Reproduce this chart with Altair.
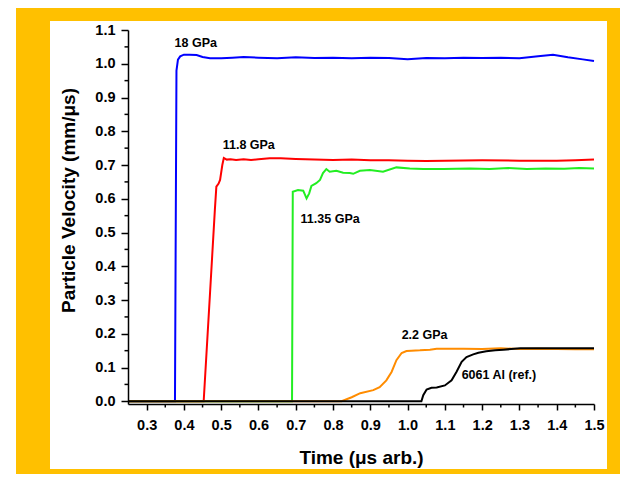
import altair as alt
import pandas as pd

# ---------------- data ----------------
series_names = ["18 GPa", "11.8 GPa", "11.35 GPa", "2.2 GPa", "6061 Al (ref.)"]
series_colors = ["#0000FF", "#FF0000", "#22EE22", "#FF8C00", "#000000"]

blue_t = [0.25, 0.376, 0.378, 0.380, 0.384, 0.390, 0.400, 0.415, 0.434, 0.45, 0.47, 0.50,
          0.53, 0.56, 0.60, 0.65, 0.70, 0.75, 0.80, 0.85, 0.90, 0.95, 1.00, 1.05, 1.10,
          1.15, 1.20, 1.25, 1.30, 1.35, 1.39, 1.43, 1.47, 1.50]
blue_v = [0.0, 0.0, 0.50, 0.98, 1.012, 1.022, 1.027, 1.027, 1.026, 1.020, 1.016, 1.016,
          1.018, 1.020, 1.018, 1.016, 1.019, 1.017, 1.018, 1.016, 1.018, 1.017, 1.013, 1.017,
          1.016, 1.018, 1.017, 1.018, 1.016, 1.022, 1.027, 1.019, 1.013, 1.008]

red_t = [0.25, 0.453, 0.470, 0.483, 0.487, 0.493, 0.497, 0.503, 0.507, 0.515, 0.525,
         0.54, 0.56, 0.58, 0.60, 0.63, 0.66, 0.70, 0.75, 0.80, 0.85, 0.90,
         0.95, 1.00, 1.05, 1.10, 1.20, 1.30, 1.40, 1.45, 1.50]
red_v = [0.0, 0.0, 0.32, 0.567, 0.636, 0.645, 0.656, 0.70, 0.721, 0.716, 0.717,
         0.715, 0.717, 0.715, 0.717, 0.720, 0.720, 0.718, 0.716, 0.715,
         0.716, 0.714, 0.714, 0.713, 0.712, 0.713, 0.714, 0.713, 0.713, 0.714, 0.716]

green_t = [0.25, 0.690, 0.692, 0.706, 0.720, 0.729, 0.736, 0.742, 0.755, 0.765, 0.773, 0.782,
           0.791, 0.809, 0.827, 0.845, 0.854, 0.872, 0.899, 0.934, 0.970, 1.006, 1.042, 1.096,
           1.167, 1.22, 1.27, 1.32, 1.37, 1.42, 1.46, 1.50]
green_v = [0.0, 0.0, 0.621, 0.626, 0.624, 0.601, 0.616, 0.638, 0.646, 0.656, 0.676, 0.688,
           0.680, 0.683, 0.677, 0.676, 0.674, 0.683, 0.685, 0.680, 0.693, 0.690, 0.688, 0.688,
           0.690, 0.688, 0.691, 0.688, 0.690, 0.689, 0.691, 0.690]

orange_t = [0.25, 0.823, 0.850, 0.873, 0.908, 0.925, 0.943, 0.957, 0.970, 0.984, 0.997, 1.01,
            1.033, 1.06, 1.078, 1.10, 1.15, 1.20, 1.25, 1.30, 1.35, 1.40, 1.45, 1.50]
orange_v = [0.0, 0.0, 0.012, 0.024, 0.033, 0.042, 0.062, 0.087, 0.122, 0.143, 0.149, 0.150,
            0.151, 0.153, 0.156, 0.156, 0.156, 0.155, 0.157, 0.155, 0.156, 0.155, 0.154, 0.154]

black_t = [0.25, 1.037, 1.042, 1.051, 1.064, 1.078, 1.100, 1.118, 1.131, 1.145, 1.158, 1.176,
           1.190, 1.211, 1.235, 1.257, 1.302, 1.35, 1.40, 1.45, 1.50]
black_v = [0.0, 0.0, 0.018, 0.035, 0.040, 0.041, 0.047, 0.062, 0.087, 0.117, 0.131, 0.139,
           0.144, 0.148, 0.151, 0.153, 0.157, 0.157, 0.157, 0.157, 0.157]

label_text = ["18 GPa", "11.8 GPa", "11.35 GPa", "2.2 GPa", "6061 Al (ref.)"]
label_t = [0.375, 0.504, 0.713, 0.984, 1.145]
label_v = [1.062, 0.760, 0.540, 0.196, 0.077]

x_major = [0.3, 0.4, 0.5, 0.6, 0.7, 0.8, 0.9, 1.0, 1.1, 1.2, 1.3, 1.4, 1.5]
x_minor = [0.35, 0.45, 0.55, 0.65, 0.75, 0.85, 0.95, 1.05, 1.15, 1.25, 1.35, 1.45]
y_major = [0.0, 0.1, 0.2, 0.3, 0.4, 0.5, 0.6, 0.7, 0.8, 0.9, 1.0, 1.1]
y_minor = [0.05, 0.15, 0.25, 0.35, 0.45, 0.55, 0.65, 0.75, 0.85, 0.95, 1.05]

# ---------------- tables ----------------
all_t = [blue_t, red_t, green_t, orange_t, black_t]
all_v = [blue_v, red_v, green_v, orange_v, black_v]
rows = []
for name, ts, vs in zip(series_names, all_t, all_v):
    for t, v in zip(ts, vs):
        rows.append({"series": name, "t": t, "v": v})
df = pd.DataFrame(rows)
labels_df = pd.DataFrame({"label": label_text, "t": label_t, "v": label_v})
xminor_df = pd.DataFrame({"t": x_minor})
yminor_df = pd.DataFrame({"v": y_minor})
one = pd.DataFrame({"k": [0]})

FONT = "Liberation Sans"
W, H = 466, 374
PAD_L, PAD_T = 120, 22
TOTAL_W, TOTAL_H = 612, 466

xscale = alt.Scale(domain=[0.25, 1.5], nice=False, zero=False)
yscale = alt.Scale(domain=[-0.008, 1.1], nice=False, zero=False)

xaxis = alt.Axis(values=x_major, format=".1f", title="Time (\u03bcs arb.)", grid=False,
                 labelFont=FONT, labelFontSize=14.5, labelFontWeight="bold", labelColor="black",
                 labelPadding=8, tickSize=6, tickWidth=1.5, tickColor="black",
                 domainColor="black", domainWidth=1.5, titleFont=FONT, titleFontSize=19,
                 titleFontWeight="bold", titleColor="black", titleY=59,
                 titleBaseline="alphabetic", labelFlush=False, zindex=1)
yaxis = alt.Axis(values=y_major, format=".1f", title="Particle Velocity (mm/\u03bcs)", grid=False,
                 labelFont=FONT, labelFontSize=14.5, labelFontWeight="bold", labelColor="black",
                 labelPadding=6, tickSize=7, tickWidth=1.5, tickColor="black",
                 domainColor="black", domainWidth=1.5, titleFont=FONT, titleFontSize=19,
                 titleFontWeight="bold", titleColor="black", titleX=-54, titleY=170,
                 titleAngle=270, titleBaseline="alphabetic", labelFlush=False, zindex=1)

X = alt.X("t:Q", scale=xscale, axis=xaxis)
Y = alt.Y("v:Q", scale=yscale, axis=yaxis)

# white page strip left of the gold frame, and the white inner panel
left_strip = alt.Chart(one).mark_rect(color="white").encode(
    x=alt.value(-PAD_L), x2=alt.value(-112), y=alt.value(-PAD_T), y2=alt.value(TOTAL_H - PAD_T))
panel = alt.Chart(one).mark_rect(color="white").encode(
    x=alt.value(-78), x2=alt.value(479), y=alt.value(-9), y2=alt.value(439))

layers_lines = [
    alt.Chart(df[df.series == name]).mark_line(strokeWidth=2, color=col).encode(
        x=X, y=Y, order=alt.Order("t:Q"))
    for name, col in zip(series_names, series_colors)
]

yminor = alt.Chart(yminor_df).mark_rule(color="black", strokeWidth=1.5).encode(
    y=Y, x=alt.value(-3.5), x2=alt.value(0))
xminor = alt.Chart(xminor_df).mark_rule(color="black", strokeWidth=1.5).encode(
    x=X, y=alt.value(H), y2=alt.value(H + 3.5))

texts = alt.Chart(labels_df).mark_text(
    align="left", baseline="middle", font=FONT, fontSize=12.5, fontWeight="bold", color="black"
).encode(x=X, y=Y, text="label:N")

chart = alt.layer(left_strip, panel, *layers_lines, yminor, xminor, texts).properties(
    width=W, height=H,
    autosize=alt.AutoSizeParams(type="none"),
    padding={"left": PAD_L, "top": PAD_T, "right": TOTAL_W - PAD_L - W, "bottom": TOTAL_H - PAD_T - H},
    background="#FFC000",
).configure_view(stroke=None)

chart.save("out.html", embed_options={"renderer": "svg", "actions": False})
